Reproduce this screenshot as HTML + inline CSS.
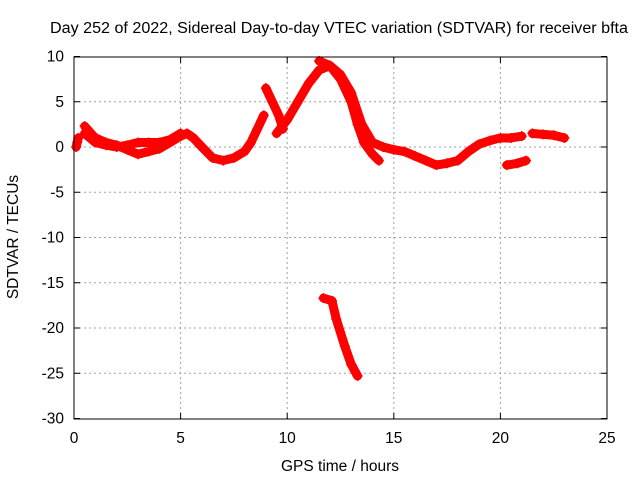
<!DOCTYPE html>
<html><head><meta charset="utf-8"><style>
body{margin:0;background:#fff}
svg text{font-family:"Liberation Sans",sans-serif;font-size:15.5px;fill:#000}
</style></head><body>
<svg id="c" width="640" height="480" xmlns="http://www.w3.org/2000/svg">
<rect width="640" height="480" fill="#fff"/>
<text x="339" y="33" text-anchor="middle" textLength="578" lengthAdjust="spacingAndGlyphs">Day 252 of 2022, Sidereal Day-to-day VTEC variation (SDTVAR) for receiver bfta</text>
<text x="340" y="471" text-anchor="middle">GPS time / hours</text>
<text transform="translate(18,237) rotate(-90)" text-anchor="middle">SDTVAR / TECUs</text>
<g id="grid"></g><g id="marks"></g>
<rect x="74" y="57" width="533" height="362" fill="none" stroke="#000" stroke-width="1"/>
</svg>
<script>
const xTicks=[0,5,10,15,20,25];
const yTicks=[10,5,0,-5,-10,-15,-20,-25,-30];
const seriesA=[[0.5,2.3],[0.8,1.5],[1,1.0],[1.5,0.5],[2,0.2],[2.5,-0.3],[3,-0.8],[3.5,-0.5],[4,-0.2],[4.5,0.5],[5,1.2],[5.3,1.5],[5.6,1.0],[6,0],[6.5,-1.2],[7,-1.5],[7.5,-1.2],[8,-0.5],[8.3,0.5],[8.6,2],[8.9,3.5]];
const seriesB=[[0.5,1.5],[1,0.5],[1.5,0.2],[2,0],[2.5,0.2],[3,0.5],[3.5,0.5],[4,0.5],[4.5,0.8],[5,1.5]];
const seriesC=[[0.1,0],[0.15,0.5],[0.2,1]];
const seriesD=[[9.0,6.5],[9.3,5],[9.6,3.5],[9.8,2]];
const seriesE=[[9.5,1.5],[10,3],[10.5,5],[11,7],[11.5,8.5],[12,9],[12.5,8],[13,6],[13.5,2.5],[14,0.5],[14.5,0],[15,-0.3],[15.5,-0.5],[16,-1],[16.5,-1.5],[17,-2],[17.5,-1.8],[18,-1.5],[18.5,-0.5],[19,0.3],[19.5,0.7],[20,1],[20.5,1],[21,1.2]];
const seriesF=[[11.5,9.5],[12,9],[12.5,7.5],[13,5],[13.3,2.5],[13.6,0.5],[14,-0.8],[14.3,-1.5]];
const seriesG=[[20.3,-2],[20.8,-1.8],[21.2,-1.5]];
const seriesH=[[21.5,1.5],[22,1.4],[22.5,1.3],[23,1]];
const seriesI=[[11.7,-16.7],[12.1,-17],[12.3,-19],[12.7,-22],[13.0,-24],[13.3,-25.3]];
const allSeries=[seriesA,seriesB,seriesC,seriesD,seriesE,seriesF,seriesG,seriesH,seriesI];
const X=v=>74+v*533/25, Y=v=>147-v*9.05;
const NS="http://www.w3.org/2000/svg";
const grid=document.getElementById('grid'), marks=document.getElementById('marks');
function mk(tag,attrs,parent){const e=document.createElementNS(NS,tag);for(const k in attrs)e.setAttribute(k,attrs[k]);parent.appendChild(e);return e;}
xTicks.forEach(t=>{const x=X(t);
 if(t>0&&t<25){const l=mk('line',{x1:x,x2:x,y1:57,y2:419,stroke:'#a0a0a0','stroke-dasharray':'2,3'},grid);}
 mk('line',{x1:x,x2:x,y1:419,y2:413,stroke:'#000'},grid);mk('line',{x1:x,x2:x,y1:57,y2:63,stroke:'#000'},grid);
 const tx=mk('text',{x:x,y:443,'text-anchor':'middle'},grid);tx.textContent=t;
 });
yTicks.forEach(t=>{const y=Y(t);
 if(t<10&&t>-30){const l=mk('line',{x1:74,x2:607,y1:y,y2:y,stroke:'#a0a0a0','stroke-dasharray':'2,3'},grid);}
 mk('line',{x1:74,x2:80,y1:y,y2:y,stroke:'#000'},grid);mk('line',{x1:607,x2:601,y1:y,y2:y,stroke:'#000'},grid);
 const tx=mk('text',{x:64,y:y+5,'text-anchor':'end'},grid);tx.textContent=t;
 });
allSeries.forEach((s,i)=>{
 const p=mk('polyline',{points:s.map(d=>X(d[0])+','+Y(d[1])).join(' '),fill:'none',stroke:'#f00','stroke-width':9,'stroke-linejoin':'round','stroke-linecap':'round'},marks);
 
 
 s.forEach(d=>{const x=X(d[0]),y=Y(d[1]);
  const m=mk('path',{d:`M${x-5},${y}h10M${x},${y-5}v10`,stroke:'#f00','stroke-width':1.5},marks);
  
  });
});
</script>
</body></html>
